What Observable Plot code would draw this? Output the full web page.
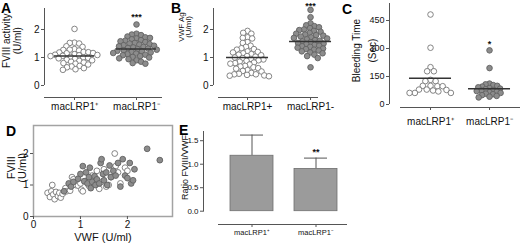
<!DOCTYPE html>
<html>
<head>
<meta charset="utf-8">
<script src="https://cdn.jsdelivr.net/npm/d3@7"></script>
<script src="https://cdn.jsdelivr.net/npm/@observablehq/plot@0.6"></script>
<style>
  html, body { margin: 0; padding: 0; background: #fff; }
  #fig { position: relative; width: 520px; height: 244px; overflow: hidden; background: #fff;
         font-family: "Liberation Sans", Arial, Helvetica, sans-serif; }
  #fig svg { position: absolute; }
  .letter { position: absolute; font-weight: bold; font-size: 14px; line-height: 16px; color: #000; }
</style>
</head>
<body>
<div id="fig"></div>
<script>
// ---------------- DATA ----------------
const catsSup = ["macLRP1\u207A", "macLRP1\u207B"];
const catsPlain = ["macLRP1+", "macLRP1-"];

// Panel A: FVIII activity (U/ml)
const fviiiPlus = [2.02, 1.53, 1.52, 1.50, 1.40, 1.38, 1.30, 1.28, 1.27, 1.25, 1.20, 1.19, 1.18, 1.16, 1.15, 1.12, 1.10, 1.09, 1.08, 1.06,
  1.05, 1.02, 1.00, 0.99, 0.97, 0.95, 0.92, 0.90, 0.88, 0.85, 0.82, 0.80, 0.78, 0.75, 0.70, 0.68, 0.65, 0.62, 0.58, 0.56];
const fviiiMinus = [2.18, 1.85, 1.82, 1.80, 1.75, 1.72, 1.70, 1.68, 1.65, 1.62, 1.60, 1.58, 1.55, 1.52, 1.50, 1.48, 1.46, 1.44, 1.42, 1.40,
  1.38, 1.36, 1.34, 1.32, 1.30, 1.28, 1.26, 1.24, 1.22, 1.20, 1.18, 1.16, 1.14, 1.12, 1.10, 1.08, 1.05, 1.02, 1.00, 0.97, 0.94, 0.90, 0.85, 0.80, 0.78];
const fviiiMeans = [1.05, 1.30];

// Panel B: VWF Ag (U/ml)
const vwfPlus = [1.95, 1.88, 1.85, 1.72, 1.70, 1.68, 1.55, 1.52, 1.42, 1.38, 1.33, 1.30, 1.28, 1.22, 1.20, 1.18, 1.15, 1.12, 1.10, 1.08,
  1.05, 1.03, 1.00, 0.98, 0.95, 0.93, 0.90, 0.88, 0.85, 0.82, 0.80, 0.78, 0.75, 0.70, 0.68, 0.65, 0.62, 0.60, 0.55, 0.52,
  0.50, 0.45, 0.42, 0.40, 0.40, 0.38, 0.36, 0.35, 0.33];
const vwfMinus = [2.70, 2.44, 2.22, 2.15, 2.12, 2.08, 2.05, 2.00, 1.98, 1.95, 1.92, 1.88, 1.85, 1.82, 1.80, 1.78, 1.75, 1.72, 1.70, 1.68,
  1.65, 1.62, 1.60, 1.58, 1.55, 1.52, 1.50, 1.48, 1.45, 1.42, 1.40, 1.38, 1.35, 1.32, 1.30, 1.28, 1.25, 1.22, 1.18, 1.15,
  1.10, 1.05, 0.98, 0.65];
const vwfMeans = [1.0, 1.57];

// Panel C: Bleeding time (sec)
const btPlus = [482, 304, 200, 178, 178, 132, 125, 125, 100, 98, 98, 100, 80, 78, 75, 80, 62, 62, 62, 70];
const btMinus = [290, 195, 112, 108, 104, 100, 96, 92, 88, 85, 82, 78, 75, 72, 70, 66, 62, 58, 55, 50, 46, 42, 38];
const btMeans = [141, 84];

// Panel D: FVIII vs VWF
const scPlusVWF   = [0.30, 0.35, 0.38, 0.40, 0.42, 0.45, 0.48, 0.52, 0.55, 0.58, 0.62, 0.68, 0.70, 0.78, 0.82, 0.85, 0.90, 0.95, 1.00, 1.02,
  1.05, 1.10, 1.18, 1.25, 1.30, 1.35, 1.40, 1.45, 1.55, 1.60, 1.65, 1.73, 1.75, 1.80, 1.85, 1.95, 2.00, 1.50];
const scPlusFVIII = [0.75, 0.62, 0.80, 1.00, 0.70, 0.55, 0.78, 0.65, 0.75, 0.60, 0.72, 0.90, 0.80, 0.82, 1.25, 1.18, 1.00, 0.98, 1.05, 0.85,
  0.80, 1.12, 0.98, 1.30, 1.20, 1.45, 0.88, 1.10, 0.95, 1.00, 1.25, 2.00, 1.60, 1.40, 1.05, 1.55, 1.45, 1.50];
const scMinusVWF   = [0.65, 0.75, 0.80, 0.85, 0.95, 1.00, 1.05, 1.08, 1.12, 1.15, 1.18, 1.20, 1.22, 1.25, 1.30, 1.32, 1.35, 1.40, 1.43, 1.45,
  1.48, 1.50, 1.55, 1.57, 1.62, 1.65, 1.70, 1.75, 1.80, 1.85, 1.90, 1.95, 2.00, 2.05, 2.08, 2.12, 2.15, 2.42, 2.69];
const scMinusFVIII = [0.80, 1.05, 0.95, 1.10, 1.20, 1.35, 1.60, 1.12, 1.40, 1.05, 1.25, 1.55, 0.90, 1.10, 1.28, 1.00, 1.18, 1.05, 1.70, 1.82,
  1.35, 1.15, 1.40, 1.00, 1.62, 1.25, 1.45, 1.30, 1.70, 0.95, 1.82, 1.30, 1.22, 1.70, 1.05, 1.15, 1.50, 2.15, 1.79];

// Panel E: Ratio FVIII/VWF
const ratioMean = [1.18, 0.90];
const ratioSD = [0.44, 0.23];

// significance marks
const sigA = "***", sigB = "***", sigC = "*", sigE = "**";

// ---------------- STYLE ----------------
const FONT = '"Liberation Sans", Arial, Helvetica, sans-serif';
const AXIS = "#555";
const WFILL = "#ffffff", WSTROKE = "#777777";
const GFILL = "#8c8c8c", GSTROKE = "#626262";
const intFmt = d3.format("d");

// Beeswarm layout (pixel offsets), deterministic greedy placement
function dodge(values, uy, r, k) {
  const d = 2 * r * k;
  const idx = values.map((v, i) => i).sort((a, b) => values[b] - values[a]);
  const placed = [], out = new Array(values.length);
  for (const i of idx) {
    const y = values[i] * uy;
    const cands = [0];
    for (const p of placed) {
      const dy = Math.abs(p.y - y);
      if (dy < d) { const dx = Math.sqrt(d * d - dy * dy); cands.push(p.x + dx, p.x - dx); }
    }
    cands.sort((a, b) => Math.abs(a) - Math.abs(b) || a - b);
    for (const c of cands) {
      if (placed.every(p => (p.x - c) ** 2 + (p.y - y) ** 2 >= d * d - 1e-6)) {
        out[i] = c; placed.push({x: c, y}); break;
      }
    }
  }
  return out;
}

const fig = document.getElementById("fig");
function place(svg, left, top) {
  svg.style.left = left + "px";
  svg.style.top = top + "px";
  fig.appendChild(svg);
}
function letter(t, left, top) {
  const el = document.createElement("div");
  el.className = "letter"; el.textContent = t;
  el.style.left = left + "px"; el.style.top = top + "px";
  fig.appendChild(el);
}
function ylab(text, x, y, size) {
  return Plot.text([text], {frameAnchor: "left", y, dx: x, text: d => d, rotate: -90, fontSize: size, textAnchor: "middle", lineAnchor: "middle"});
}

function swarm(c) {
  const ux = (c.width - c.ml - c.mr) / (c.xDomain[1] - c.xDomain[0]);
  const uy = (c.height - c.mt - c.mb) / (c.yDomain[1] - c.yDomain[0]);
  const pts = c.groups.map((vals, gi) => dodge(vals, uy, c.r, c.k[gi]).map((off, k) => ({x: gi + off / ux, y: vals[k]})));
  return Plot.plot({
    width: c.width, height: c.height,
    marginLeft: c.ml, marginRight: c.mr, marginTop: c.mt, marginBottom: c.mb,
    x: {domain: c.xDomain}, y: {domain: c.yDomain},
    style: {fontFamily: FONT, background: "transparent", overflow: "visible", color: "#111"},
    marks: [
      Plot.ruleX([c.xDomain[0]], {y1: 0, y2: c.yDomain[1], stroke: AXIS}),
      Plot.ruleY([c.yDomain[0]], {x1: c.xDomain[0] + c.xLine[0] / ux, x2: c.xDomain[0] + c.xLine[1] / ux, stroke: AXIS}),
      Plot.axisY({ticks: c.yTicks, tickFormat: intFmt, tickSize: 3, tickPadding: 2, fontSize: c.tickFont, stroke: AXIS, label: null}),
      Plot.axisX({ticks: [0, 1], tickFormat: i => c.cats[i], tickSize: 3, tickPadding: c.catPad, fontSize: c.catFont, stroke: AXIS, label: null}),
      Plot.dot(pts[0], {x: "x", y: "y", r: c.r, fill: WFILL, stroke: WSTROKE, strokeWidth: 0.9}),
      Plot.dot(pts[1], {x: "x", y: "y", r: c.r, fill: GFILL, stroke: GSTROKE, strokeWidth: 0.9}),
      Plot.ruleY(c.means.map((m, i) => ({m, i})), {y: "m", x1: d => d.i - c.hw / ux, x2: d => d.i + c.hw / ux, stroke: "#333", strokeWidth: 1.5}),
      Plot.text([c.sig], {x: 1, y: c.sigY, text: d => d, fontSize: 9, fontWeight: "bold"}),
      ...c.yLabels.map(l => ylab(l.text, l.x - c.ml, l.y, l.size))
    ]
  });
}

// Panel A
place(swarm({
  width: 172, height: 118, ml: 44, mr: 5, mt: 8, mb: 21,
  xDomain: [-0.484, 1.5], yDomain: [-0.4286, 2.75], yTicks: [0, 1, 2],
  groups: [fviiiPlus, fviiiMinus], means: fviiiMeans, cats: catsSup,
  sig: sigA, sigY: 2.45, hw: 20, xLine: [0, 118], r: 2.8, k: [0.85, 0.85],
  tickFont: 10, catFont: 10, catPad: 2,
  yLabels: [{text: "FVIII activity", x: 6, y: 1.6, size: 10}, {text: "(U/ml)", x: 17, y: 1.6, size: 10}]
}), 0, 0);

// Panel B
place(swarm({
  width: 172, height: 118, ml: 43, mr: 5, mt: 8, mb: 21,
  xDomain: [-0.54, 1.428], yDomain: [-0.4286, 2.75], yTicks: [0, 1, 2],
  groups: [vwfPlus, vwfMinus], means: vwfMeans, cats: catsPlain,
  sig: sigB, sigY: 2.85, hw: 21, xLine: [5, 105], r: 2.8, k: [0.85, 0.85],
  tickFont: 10, catFont: 10, catPad: 2,
  yLabels: [{text: "VWF Ag", x: 10.5, y: 2.09, size: 8}, {text: "(U/ml)", x: 18, y: 2.09, size: 8}]
}), 170, 0);

// Panel C
place(swarm({
  width: 180, height: 130, ml: 49, mr: 0, mt: 3, mb: 23,
  xDomain: [-0.695, 1.525], yDomain: [-16.07, 541], yTicks: [0, 150, 300, 450],
  groups: [btPlus, btMinus], means: btMeans, cats: catsSup,
  sig: sigC, sigY: 325, hw: 21, xLine: [11, 131], r: 2.8, k: [0.95, 0.72],
  tickFont: 9, catFont: 10, catPad: 7,
  yLabels: [{text: "Bleeding Time", x: 16, y: 289, size: 10}, {text: "(Sec)", x: 32, y: 289, size: 10}]
}), 340, 0);

// Panel D
const scPlus = scPlusVWF.map((v, i) => ({v, f: scPlusFVIII[i]}));
const scMinus = scMinusVWF.map((v, i) => ({v, f: scMinusFVIII[i]}));
place(Plot.plot({
  width: 172, height: 129, marginLeft: 33, marginRight: 0, marginTop: 10, marginBottom: 28,
  x: {domain: [0, 2.96]}, y: {domain: [0, 2.89]},
  style: {fontFamily: FONT, background: "transparent", overflow: "visible", color: "#111"},
  marks: [
    Plot.frame({stroke: "#a3a3a3", strokeWidth: 1.5}),
    Plot.axisX({ticks: [0, 1, 2], tickFormat: intFmt, tickSize: 3, tickPadding: 1, fontSize: 10, stroke: AXIS, label: null}),
    Plot.axisY({ticks: [0, 1, 2], tickFormat: intFmt, tickSize: 3, tickPadding: 2, fontSize: 10, stroke: AXIS, label: null}),
    Plot.dot(scPlus, {x: "v", y: "f", r: 2.9, fill: WFILL, stroke: WSTROKE, strokeWidth: 0.9}),
    Plot.dot(scMinus, {x: "v", y: "f", r: 2.9, fill: GFILL, stroke: GSTROKE, strokeWidth: 0.9}),
    Plot.text(["VWF (U/ml)"], {frameAnchor: "bottom", dy: 21, text: d => d, fontSize: 11, lineAnchor: "middle"}),
    ylab("FVIII", -22, 1.55, 11),
    ylab("(U/ml)", -11, 1.55, 11)
  ]
}), 0, 115);

// Panel E
const eData = catsSup.map((c, i) => ({c, m: ratioMean[i], sd: ratioSD[i]}));
place(Plot.plot({
  width: 180, height: 129, marginLeft: 31, marginRight: 0, marginTop: 16, marginBottom: 20,
  x: {type: "band", domain: catsSup, paddingInner: 0.323, paddingOuter: 0, range: [57, 166]},
  y: {domain: [-0.283, 1.696]},
  style: {fontFamily: FONT, background: "transparent", overflow: "visible", color: "#111"},
  marks: [
    Plot.ruleY([-0.283], {insetLeft: 15, insetRight: 5, stroke: AXIS}),
    Plot.frame({anchor: "left", insetBottom: 13.3, stroke: AXIS}),
    Plot.axisY({ticks: [0, 0.5, 1, 1.5], tickFormat: d3.format(".1f"), tickSize: 3, tickPadding: 2, fontSize: 8, stroke: AXIS, label: null}),
    Plot.axisX({tickSize: 3, tickPadding: 2, fontSize: 7.5, stroke: AXIS, label: null}),
    Plot.ruleX(eData, {x: "c", y1: "m", y2: d => d.m + d.sd, stroke: "#555"}),
    Plot.tickY(eData, {x: "c", y: d => d.m + d.sd, insetLeft: 10, insetRight: 10, stroke: "#555"}),
    Plot.barY(eData, {x: "c", y1: 0, y2: "m", fill: "#9b9b9b", stroke: "#6f6f6f", strokeWidth: 0.8}),
    Plot.text([{c: catsSup[1], y: 1.25, t: sigE}], {x: "c", y: "y", text: "t", fontSize: 9, fontWeight: "bold"}),
    ylab("Ratio FVIII/VWF", -18, 0.93, 9)
  ]
}), 172, 115);

letter("A", 1, 0);
letter("B", 171, 0);
letter("C", 342, 1);
letter("D", 6, 123);
letter("E", 179, 122);
</script>
</body>
</html>
